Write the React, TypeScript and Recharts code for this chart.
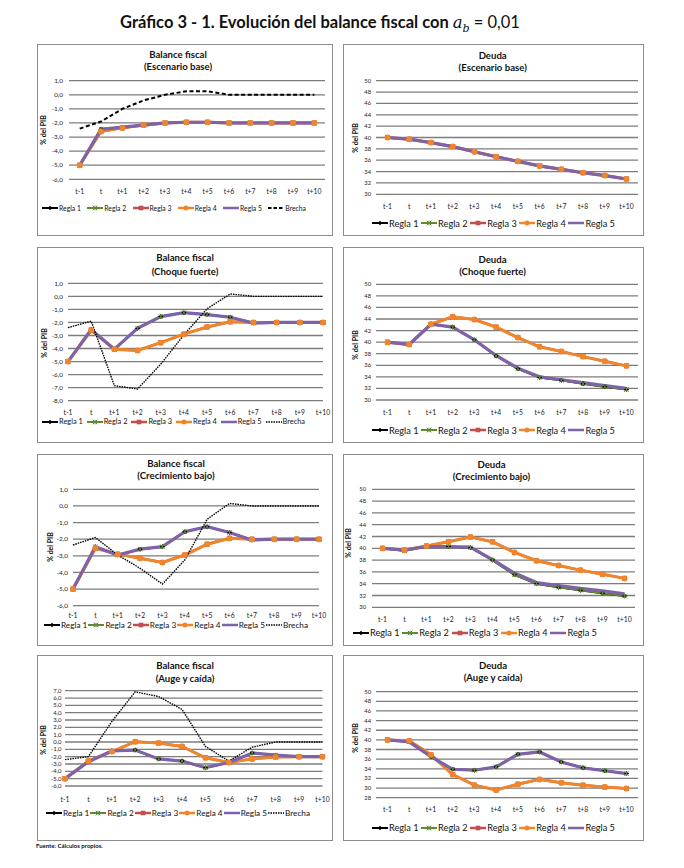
import React from 'react';
import { LineChart, Line, XAxis, YAxis, CartesianGrid } from 'recharts';

// ---------- Data ----------
const periods = ['t-1', 't', 't+1', 't+2', 't+3', 't+4', 't+5', 't+6', 't+7', 't+8', 't+9', 't+10'];

// Balance fiscal – Escenario base
const bfBaseR1 = [-5.0, -2.45, -2.3, -2.15, -2.0, -1.95, -1.95, -2.0, -2.0, -2.0, -2.0, -2.0];
const bfBaseR2 = [-5.0, -2.45, -2.3, -2.15, -2.0, -1.95, -1.95, -2.0, -2.0, -2.0, -2.0, -2.0];
const bfBaseR3 = [-5.0, -2.6, -2.35, -2.15, -2.0, -1.95, -1.95, -2.0, -2.0, -2.0, -2.0, -2.0];
const bfBaseR4 = [-5.0, -2.6, -2.35, -2.15, -2.0, -1.95, -1.95, -2.0, -2.0, -2.0, -2.0, -2.0];
const bfBaseR5 = [-5.0, -2.45, -2.3, -2.15, -2.0, -1.95, -1.95, -2.0, -2.0, -2.0, -2.0, -2.0];
const bfBaseBrecha = [-2.4, -1.9, -1.0, -0.4, 0.0, 0.25, 0.25, 0.0, 0.0, 0.0, 0.0, 0.0];

// Deuda – Escenario base
const dBaseR1 = [40.0, 39.7, 39.1, 38.4, 37.5, 36.6, 35.8, 35.0, 34.4, 33.8, 33.3, 32.7];
const dBaseR2 = [40.0, 39.7, 39.1, 38.4, 37.5, 36.6, 35.8, 35.0, 34.4, 33.8, 33.3, 32.7];
const dBaseR3 = [40.0, 39.7, 39.1, 38.4, 37.5, 36.6, 35.8, 35.0, 34.4, 33.8, 33.3, 32.7];
const dBaseR4 = [40.0, 39.7, 39.1, 38.4, 37.5, 36.6, 35.8, 35.0, 34.4, 33.8, 33.3, 32.7];
const dBaseR5 = [40.0, 39.7, 39.1, 38.4, 37.5, 36.6, 35.8, 35.0, 34.4, 33.8, 33.3, 32.7];

// Balance fiscal – Choque fuerte
const bfChoqueR1 = [-5.0, -2.55, -4.05, -2.45, -1.55, -1.25, -1.4, -1.6, -2.05, -2.0, -2.0, -2.0];
const bfChoqueR2 = [-5.0, -2.55, -4.05, -2.45, -1.55, -1.25, -1.4, -1.6, -2.05, -2.0, -2.0, -2.0];
const bfChoqueR3 = [-5.0, -2.6, -4.05, -4.15, -3.55, -2.9, -2.35, -1.95, -2.0, -2.0, -2.0, -2.0];
const bfChoqueR4 = [-5.0, -2.6, -4.05, -4.15, -3.55, -2.9, -2.35, -1.95, -2.0, -2.0, -2.0, -2.0];
const bfChoqueR5 = [-5.0, -2.55, -4.05, -2.45, -1.55, -1.25, -1.4, -1.6, -2.05, -2.0, -2.0, -2.0];
const bfChoqueBrecha = [-2.4, -1.9, -6.85, -7.1, -5.2, -2.95, -0.95, 0.18, 0.0, 0.0, 0.0, 0.0];

// Deuda – Choque fuerte
const dChoqueR1 = [40.0, 39.6, 43.1, 42.6, 40.4, 37.6, 35.4, 33.9, 33.4, 32.8, 32.3, 31.8];
const dChoqueR2 = [40.0, 39.6, 43.1, 42.6, 40.4, 37.6, 35.4, 33.9, 33.4, 32.8, 32.3, 31.8];
const dChoqueR3 = [40.0, 39.6, 43.1, 44.4, 43.9, 42.6, 40.8, 39.2, 38.4, 37.5, 36.7, 35.9];
const dChoqueR4 = [40.0, 39.6, 43.1, 44.4, 43.9, 42.6, 40.8, 39.2, 38.4, 37.5, 36.7, 35.9];
const dChoqueR5 = [40.0, 39.6, 43.1, 42.6, 40.4, 37.7, 35.5, 34.0, 33.5, 33.0, 32.5, 32.0];

// Balance fiscal – Crecimiento bajo
const bfBajoR1 = [-5.0, -2.45, -2.95, -2.6, -2.45, -1.55, -1.25, -1.6, -2.05, -2.0, -2.0, -2.0];
const bfBajoR2 = [-5.0, -2.45, -2.95, -2.6, -2.45, -1.55, -1.25, -1.6, -2.05, -2.0, -2.0, -2.0];
const bfBajoR3 = [-5.0, -2.55, -2.9, -3.15, -3.4, -2.95, -2.3, -1.95, -2.0, -2.0, -2.0, -2.0];
const bfBajoR4 = [-5.0, -2.55, -2.9, -3.15, -3.4, -2.95, -2.3, -1.95, -2.0, -2.0, -2.0, -2.0];
const bfBajoR5 = [-5.0, -2.45, -2.95, -2.6, -2.45, -1.55, -1.25, -1.6, -2.05, -2.0, -2.0, -2.0];
const bfBajoBrecha = [-2.35, -1.9, -2.95, -3.75, -4.7, -3.25, -0.8, 0.15, 0.0, 0.0, 0.0, 0.0];

// Deuda – Crecimiento bajo
const dBajoR1 = [40.0, 39.6, 40.3, 40.3, 40.1, 38.0, 35.5, 34.0, 33.4, 32.9, 32.4, 31.9];
const dBajoR2 = [40.0, 39.6, 40.3, 40.3, 40.1, 38.0, 35.5, 34.0, 33.4, 32.9, 32.4, 31.9];
const dBajoR3 = [40.0, 39.7, 40.4, 41.1, 41.9, 41.1, 39.3, 37.9, 37.1, 36.3, 35.6, 34.9];
const dBajoR4 = [40.0, 39.7, 40.4, 41.1, 41.9, 41.1, 39.3, 37.9, 37.1, 36.3, 35.6, 34.9];
const dBajoR5 = [40.0, 39.7, 40.3, 40.3, 40.2, 38.1, 35.8, 34.2, 33.7, 33.2, 32.8, 32.3];

// Balance fiscal – Auge y caída
const bfAugeR1 = [-5.0, -2.7, -1.2, -1.1, -2.3, -2.6, -3.5, -2.8, -1.5, -1.8, -2.0, -2.0];
const bfAugeR2 = [-5.0, -2.7, -1.2, -1.1, -2.3, -2.6, -3.5, -2.8, -1.5, -1.8, -2.0, -2.0];
const bfAugeR3 = [-5.0, -2.6, -1.3, 0.05, -0.15, -0.6, -2.15, -2.8, -2.3, -2.05, -2.0, -2.0];
const bfAugeR4 = [-5.0, -2.6, -1.3, 0.05, -0.15, -0.6, -2.15, -2.8, -2.3, -2.05, -2.0, -2.0];
const bfAugeR5 = [-5.0, -2.7, -1.2, -1.1, -2.3, -2.6, -3.5, -2.8, -1.5, -1.8, -2.0, -2.0];
const bfAugeBrecha = [-2.4, -2.0, 2.8, 6.85, 6.2, 4.45, -0.6, -2.6, -0.7, 0.0, 0.0, 0.0];

// Deuda – Auge y caída
const dAugeR1 = [40.0, 39.6, 36.5, 33.9, 33.7, 34.4, 37.0, 37.5, 35.4, 34.2, 33.6, 33.0];
const dAugeR2 = [40.0, 39.6, 36.5, 33.9, 33.7, 34.4, 37.0, 37.5, 35.4, 34.2, 33.6, 33.0];
const dAugeR3 = [40.0, 39.8, 36.9, 32.8, 30.6, 29.6, 30.8, 31.8, 31.1, 30.6, 30.2, 29.9];
const dAugeR4 = [40.0, 39.8, 36.9, 32.8, 30.6, 29.6, 30.8, 31.8, 31.1, 30.6, 30.2, 29.9];
const dAugeR5 = [40.0, 39.6, 36.5, 33.9, 33.7, 34.4, 37.0, 37.5, 35.4, 34.2, 33.6, 33.0];

// Tick values
const bfTicks7 = [-6, -5, -4, -3, -2, -1, 0, 1];
const bfTicks9 = [-8, -7, -6, -5, -4, -3, -2, -1, 0, 1];
const bfTicks13 = [-6, -5, -4, -3, -2, -1, 0, 1, 2, 3, 4, 5, 6, 7];
const dTicks30 = [30, 32, 34, 36, 38, 40, 42, 44, 46, 48, 50];
const dTicks28 = [28, 30, 32, 34, 36, 38, 40, 42, 44, 46, 48, 50];

// ---------- Helpers ----------
const build = (r1: number[], r2: number[], r3: number[], r4: number[], r5: number[], br?: number[]) =>
  periods.map((p, i) => ({ p, r1: r1[i], r2: r2[i], r3: r3[i], r4: r4[i], r5: r5[i], br: br ? br[i] : undefined }));

const FONT = 'Lato, "Open Sans", "DejaVu Sans", sans-serif';

type Marker = 'diamond' | 'star' | 'square' | 'circle' | 'none';
const SERIES: { key: string; name: string; color: string; width: number; marker: Marker }[] = [
  { key: 'r1', name: 'Regla 1', color: '#000000', width: 2, marker: 'diamond' },
  { key: 'r2', name: 'Regla 2', color: '#5e8a34', width: 2, marker: 'star' },
  { key: 'r3', name: 'Regla 3', color: '#c0504d', width: 2.5, marker: 'square' },
  { key: 'r4', name: 'Regla 4', color: '#f0862c', width: 3, marker: 'circle' },
  { key: 'r5', name: 'Regla 5', color: '#7f63a8', width: 3.2, marker: 'none' },
];

function markerShape(kind: Marker, color: string, cx: number, cy: number, s: number, key?: any) {
  if (kind === 'diamond')
    return <path key={key} d={`M${cx},${cy - s}L${cx + s},${cy}L${cx},${cy + s}L${cx - s},${cy}Z`} fill={color} />;
  if (kind === 'star')
    return (
      <path
        key={key}
        d={`M${cx - s},${cy - s}L${cx + s},${cy + s}M${cx + s},${cy - s}L${cx - s},${cy + s}M${cx},${cy - s}L${cx},${cy + s}`}
        stroke={color}
        strokeWidth={1}
        fill="none"
      />
    );
  if (kind === 'square') return <rect key={key} x={cx - s} y={cy - s} width={2 * s} height={2 * s} fill={color} />;
  if (kind === 'circle') return <circle key={key} cx={cx} cy={cy} r={s} fill={color} />;
  return <g key={key} />;
}

const makeDot = (kind: Marker, color: string, s: number) => (props: any) => {
  const { cx, cy, index } = props;
  if (cx == null || cy == null) return <g key={`d${index}`} />;
  return markerShape(kind, color, cx, cy, s, `d${index}`);
};

type Spec = {
  box: [number, number, number, number];
  plot: [number, number, number, number];
  title: [string, string];
  titlePos: [number, number, number];
  titleFs: number;
  rows: any[];
  domain: [number, number];
  ticks: number[];
  pad: number;
  xTickMargin: number;
  yTickMargin: number;
  yTickFs: number;
  decimals: boolean;
  legend: [number, number, number, number]; // y, x1, x2, fs
  ylabel: [number, number];
  brecha?: 'dash' | 'dot';
};

const fmtDec = (v: number) => Number(v).toFixed(1).replace('.', ',');
const fmtInt = (v: number) => String(v);

function LegendRow({ spec }: { spec: Spec }) {
  const [y, x1, x2, fs] = spec.legend;
  const items: any[] = SERIES.map((s) => ({ ...s }));
  if (spec.brecha) items.push({ key: 'br', name: 'Brecha', color: '#000', width: 2, marker: 'none' as Marker });
  return (
    <div
      style={{
        position: 'absolute',
        left: x1,
        top: y - 7,
        width: x2 - x1,
        height: 14,
        display: 'flex',
        justifyContent: 'space-between',
        alignItems: 'center',
        fontSize: fs,
        fontFamily: FONT,
        color: '#111',
        whiteSpace: 'nowrap',
      }}
    >
      {items.map((it) => (
        <span key={it.key} style={{ display: 'flex', alignItems: 'center' }}>
          <svg width={16} height={8} style={{ marginRight: 1 }}>
            {it.key === 'br' ? (
              <line
                x1={0}
                y1={4}
                x2={16}
                y2={4}
                stroke="#000"
                strokeWidth={spec.brecha === 'dash' ? 2 : 1.4}
                strokeDasharray={spec.brecha === 'dash' ? '3.5 2' : '1.5 1'}
              />
            ) : (
              <line x1={0} y1={4} x2={16} y2={4} stroke={it.color} strokeWidth={Math.min(it.width, 2.5)} />
            )}
            {it.key !== 'br' && markerShape(it.marker, it.color, 8, 4, it.marker === 'circle' ? 2.5 : 2.3)}
          </svg>
          <span>{it.name}</span>
        </span>
      ))}
    </div>
  );
}

function Panel({ spec }: { spec: Spec }) {
  const [bx, by, bw, bh] = spec.box;
  const [px1, py1, px2, py2] = spec.plot;
  const Wy = 26;
  const Hx = 14;
  const margin = {
    left: px1 - bx - Wy,
    right: bx + bw - px2,
    top: py1 - by,
    bottom: by + bh - py2 - Hx,
  };
  const [tcx, ty1, ty2] = spec.titlePos;
  const titleStyle = (y: number): React.CSSProperties => ({
    position: 'absolute',
    left: tcx - 100,
    width: 200,
    top: y - 7,
    height: 14,
    lineHeight: '14px',
    textAlign: 'center',
    fontWeight: 700,
    fontSize: spec.titleFs,
    fontFamily: FONT,
    color: '#111',
    whiteSpace: 'nowrap',
  });
  return (
    <>
      <div
        style={{
          position: 'absolute',
          left: bx,
          top: by,
          width: bw - 2,
          height: bh - 2,
          border: '1px solid #8c8c8c',
          background: '#fff',
        }}
      />
      <div style={titleStyle(ty1)}>{spec.title[0]}</div>
      <div style={titleStyle(ty2)}>{spec.title[1]}</div>
      <div
        style={{
          position: 'absolute',
          left: spec.ylabel[0],
          top: spec.ylabel[1],
          transform: 'translate(-50%, -50%) rotate(-90deg)',
          fontSize: 7,
          fontWeight: 700,
          fontFamily: FONT,
          whiteSpace: 'nowrap',
          color: '#111',
        }}
      >
        % del PIB
      </div>
      <div style={{ position: 'absolute', left: bx, top: by, width: bw, height: bh }}>
        <LineChart width={bw} height={bh} data={spec.rows} margin={margin}>
          <CartesianGrid vertical={false} stroke="#7c7c7c" strokeWidth={1.3} />
          <XAxis
            dataKey="p"
            interval={0}
            axisLine={false}
            tickLine={false}
            tickSize={0}
            tickMargin={spec.xTickMargin}
            height={Hx}
            padding={{ left: spec.pad, right: spec.pad }}
            tick={{ fontSize: 6.8, fill: '#222', fontFamily: FONT }}
          />
          <YAxis
            type="number"
            domain={spec.domain}
            ticks={spec.ticks}
            interval={0}
            width={Wy}
            axisLine={false}
            tickLine={false}
            tickSize={0}
            tickMargin={spec.yTickMargin}
            tickFormatter={spec.decimals ? fmtDec : fmtInt}
            tick={{ fontSize: spec.yTickFs, fill: '#222', fontFamily: FONT }}
          />
          {SERIES.map((s) => (
            <Line
              key={s.key}
              type="linear"
              dataKey={s.key}
              name={s.name}
              stroke={s.color}
              strokeWidth={s.width}
              dot={makeDot(s.marker, s.color, s.marker === 'circle' ? 3 : s.marker === 'star' ? 2.2 : 2.5)}
              activeDot={false}
              isAnimationActive={false}
            />
          ))}
          {spec.brecha && (
            <Line
              type="linear"
              dataKey="br"
              name="Brecha"
              stroke="#000"
              strokeWidth={spec.brecha === 'dash' ? 2 : 1.4}
              strokeDasharray={spec.brecha === 'dash' ? '4 2.5' : '1.5 1'}
              dot={false}
              activeDot={false}
              isAnimationActive={false}
            />
          )}
        </LineChart>
      </div>
      <LegendRow spec={spec} />
    </>
  );
}

const L = 37;
const LW = 296;
const R = 343;
const RW = 301;

const specs: Spec[] = [
  {
    box: [L, 44, LW, 192],
    plot: [69, 80.7, 325, 179.3],
    title: ['Balance fiscal', '(Escenario base)'],
    titlePos: [178, 55, 66.7],
    titleFs: 9.6,
    rows: build(bfBaseR1, bfBaseR2, bfBaseR3, bfBaseR4, bfBaseR5, bfBaseBrecha),
    domain: [-6, 1],
    ticks: bfTicks7,
    pad: 10.7,
    xTickMargin: 10.2,
    yTickMargin: 6,
    yTickFs: 6.4,
    decimals: true,
    legend: [207.7, 42, 306, 6.8],
    ylabel: [43, 130],
    brecha: 'dash',
  },
  {
    box: [R, 44, RW, 192],
    plot: [376, 80.7, 638, 194.3],
    title: ['Deuda', '(Escenario base)'],
    titlePos: [492.7, 55.7, 67.7],
    titleFs: 9.6,
    rows: build(dBaseR1, dBaseR2, dBaseR3, dBaseR4, dBaseR5),
    domain: [30, 50],
    ticks: dTicks30,
    pad: 11.5,
    xTickMargin: 9.9,
    yTickMargin: 5,
    yTickFs: 5.8,
    decimals: false,
    legend: [223.3, 372, 615, 9.2],
    ylabel: [355, 138],
  },
  {
    box: [L, 247, LW, 196],
    plot: [68, 283.3, 323, 400.7],
    title: ['Balance fiscal', '(Choque fuerte)'],
    titlePos: [185, 258.3, 272.3],
    titleFs: 9.6,
    rows: build(bfChoqueR1, bfChoqueR2, bfChoqueR3, bfChoqueR4, bfChoqueR5, bfChoqueBrecha),
    domain: [-8, 1],
    ticks: bfTicks9,
    pad: 0,
    xTickMargin: 9.5,
    yTickMargin: 5,
    yTickFs: 6.4,
    decimals: true,
    legend: [421.7, 42, 305, 7.4],
    ylabel: [44, 343],
    brecha: 'dot',
  },
  {
    box: [R, 247, RW, 196],
    plot: [376, 284.3, 638, 400],
    title: ['Deuda', '(Choque fuerte)'],
    titlePos: [492.5, 260, 272.3],
    titleFs: 9.6,
    rows: build(dChoqueR1, dChoqueR2, dChoqueR3, dChoqueR4, dChoqueR5),
    domain: [30, 50],
    ticks: dTicks30,
    pad: 11.5,
    xTickMargin: 9.8,
    yTickMargin: 5,
    yTickFs: 5.8,
    decimals: false,
    legend: [430, 372, 615, 9.2],
    ylabel: [355, 345],
  },
  {
    box: [L, 454, LW, 192],
    plot: [73, 489.3, 319, 605.7],
    title: ['Balance fiscal', '(Crecimiento bajo)'],
    titlePos: [176, 464, 475.7],
    titleFs: 9.6,
    rows: build(bfBajoR1, bfBajoR2, bfBajoR3, bfBajoR4, bfBajoR5, bfBajoBrecha),
    domain: [-6, 1],
    ticks: bfTicks7,
    pad: 0,
    xTickMargin: 7.8,
    yTickMargin: 5,
    yTickFs: 6.4,
    decimals: true,
    legend: [625, 44, 308, 8.2],
    ylabel: [50, 547],
    brecha: 'dot',
  },
  {
    box: [R, 454, RW, 192],
    plot: [372, 489.3, 635, 607.3],
    title: ['Deuda', '(Crecimiento bajo)'],
    titlePos: [491.5, 465, 476.7],
    titleFs: 9.6,
    rows: build(dBajoR1, dBajoR2, dBajoR3, dBajoR4, dBajoR5),
    domain: [30, 50],
    ticks: dTicks30,
    pad: 10.5,
    xTickMargin: 10.2,
    yTickMargin: 6,
    yTickFs: 5.8,
    decimals: false,
    legend: [632.7, 353, 597, 9.2],
    ylabel: [348, 543],
  },
  {
    box: [L, 655, LW, 186],
    plot: [65, 690.7, 322.5, 786],
    title: ['Balance fiscal', '(Auge y caída)'],
    titlePos: [185, 665.7, 679],
    titleFs: 9.6,
    rows: build(bfAugeR1, bfAugeR2, bfAugeR3, bfAugeR4, bfAugeR5, bfAugeBrecha),
    domain: [-6, 7],
    ticks: bfTicks13,
    pad: 0,
    xTickMargin: 10.8,
    yTickMargin: 3.5,
    yTickFs: 6,
    decimals: true,
    legend: [812.7, 46, 310, 8.2],
    ylabel: [43, 740],
    brecha: 'dot',
  },
  {
    box: [R, 655, RW, 186],
    plot: [376, 691.7, 638, 797.7],
    title: ['Deuda', '(Auge y caída)'],
    titlePos: [493, 665.7, 677.7],
    titleFs: 9.6,
    rows: build(dAugeR1, dAugeR2, dAugeR3, dAugeR4, dAugeR5),
    domain: [28, 50],
    ticks: dTicks28,
    pad: 11.5,
    xTickMargin: 9.1,
    yTickMargin: 5,
    yTickFs: 5.8,
    decimals: false,
    legend: [827.7, 372, 615, 9.2],
    ylabel: [355, 738],
  },
];

export default function App() {
  return (
    <div
      style={{
        position: 'absolute',
        left: 0,
        top: 0,
        width: 684,
        height: 868,
        background: '#fff',
        fontFamily: FONT,
        overflow: 'hidden',
      }}
    >
      <div
        style={{
          position: 'absolute',
          left: 0,
          width: 640,
          top: 11,
          height: 22,
          lineHeight: '22px',
          textAlign: 'center',
          fontSize: 16.5,
          fontWeight: 700,
          color: '#111',
          whiteSpace: 'nowrap',
        }}
      >
        Gráfico 3 - 1. Evolución del balance fiscal con{' '}
        <span style={{ fontFamily: '"DejaVu Serif", "Liberation Serif", serif', fontStyle: 'italic', fontWeight: 400 }}>
          a<sub style={{ fontSize: 11 }}>b</sub>
        </span>{' '}
        <span style={{ fontWeight: 400 }}>= 0,01</span>
      </div>
      {specs.map((s, i) => (
        <Panel key={i} spec={s} />
      ))}
      <div
        style={{
          position: 'absolute',
          left: 36,
          top: 842,
          fontSize: 6,
          fontWeight: 700,
          color: '#111',
          whiteSpace: 'nowrap',
        }}
      >
        Fuente: Cálculos propios.
      </div>
    </div>
  );
}
